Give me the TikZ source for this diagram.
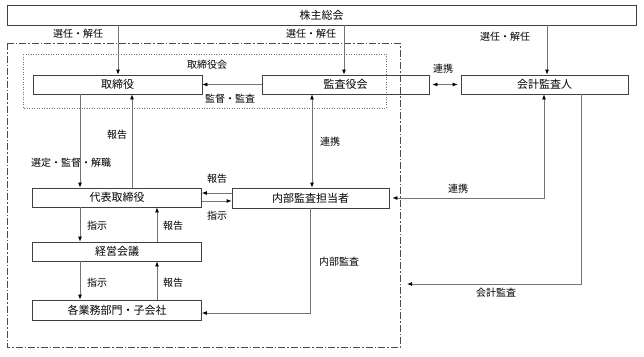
\documentclass[tikz,border=0pt]{standalone}
\usepackage{fontspec}
\setmainfont{Noto Sans CJK JP}
\usepackage{tikz}
\usetikzlibrary{arrows.meta, positioning}
\tikzstyle{organ} = [rectangle, minimum width=169pt, minimum height=19pt, inner sep=0pt, text centered, draw=black!75, line width=0.8pt, font=\fontsize{11}{13}\selectfont]
\tikzstyle{tag} = [inner sep=0pt, font=\fontsize{10}{12}\selectfont]
\tikzstyle{arrow} = [line width=0.8pt, draw=black!55, -{Latex[length=5pt,width=4pt,color=black]}]
\tikzstyle{twoway} = [line width=0.8pt, draw=black!55, {Latex[length=5pt,width=4pt,color=black]}-{Latex[length=5pt,width=4pt,color=black]}]

\begin{document}
\begin{tikzpicture}[x=1pt, y=-1pt, node distance=54pt]
\useasboundingbox (0,0) rectangle (644,356);

% frames
\draw [black!70, line width=0.8pt, dash pattern=on 7pt off 2pt on 1.5pt off 2pt] (7,43) rectangle (400,347);
\draw [black!55, line width=0.8pt, dash pattern=on 1pt off 1.5pt] (23,54) rectangle (386,108);

% boxes
\node (soukai) [organ, minimum width=629pt, minimum height=20pt] at (321.5,15) {株主総会};
\node (torishimari) [organ] at (117.5,84.5) {取締役};
\node (kansa) [organ, minimum width=167pt] at (345.5,84.5) {監査役会};
\node (kaikei) [organ, minimum width=167pt] at (544.5,84.5) {会計監査人};
\node (daihyo) [organ] at (117,197.5) {代表取締役};
\node (keiei) [organ, below of=daihyo] {経営会議};
\node (gyomu) [organ, minimum height=20pt, below of=keiei, yshift=-4.5pt] {各業務部門・子会社};
\node (naibu) [organ, minimum width=157pt, minimum height=20pt] at (310.5,198) {内部監査担当者};

% labels
\node (sennin1) [tag] at (78,34) {選任・解任};
\node (sennin2) [tag] at (311,34) {選任・解任};
\node (sennin3) [tag] at (505,37) {選任・解任};
\node (kai) [tag] at (207,65) {取締役会};
\node (kantoku) [tag] at (230,99) {監督・監査};
\node (renkei1) [tag] at (443,69) {連携};
\node (houkoku1) [tag] at (117,135) {報告};
\node (sentei) [tag] at (71,163) {選定・監督・解職};
\node (renkei2) [tag] at (330,142) {連携};
\node (houkoku2) [tag] at (217,179) {報告};
\node (shiji1) [tag] at (217,216) {指示};
\node (renkei3) [tag] at (458,189) {連携};
\node (shiji2) [tag] at (97,226) {指示};
\node (houkoku3) [tag] at (173,226) {報告};
\node (shiji3) [tag] at (97,283) {指示};
\node (houkoku4) [tag] at (173,283) {報告};
\node (naibukansa) [tag] at (339,262) {内部監査};
\node (kaikeikansa) [tag] at (496,293) {会計監査};

\coordinate (waku) at (407,284);

% connectors
\draw [arrow] (118,0 |- soukai.south) -- (118,0 |- torishimari.north);
\draw [arrow] (344,0 |- soukai.south) -- (344,0 |- kansa.north);
\draw [arrow] (547,0 |- soukai.south) -- (547,0 |- kaikei.north);
\draw [arrow] (kansa.west) -- (torishimari.east);
\draw [twoway, shorten <=3pt, shorten >=3pt] (kansa.east) -- (kaikei.west);
\draw [arrow] (80,0 |- torishimari.south) -- (80,0 |- daihyo.north);
\draw [arrow] (132,0 |- daihyo.north) -- (132,0 |- torishimari.south);
\draw [twoway] (312,0 |- kansa.south) -- (312,0 |- naibu.north);
\draw [arrow] (naibu.west |- 0,193) -- (daihyo.east |- 0,193);
\draw [arrow] (daihyo.east |- 0,201) -- (naibu.west |- 0,201);
\draw [arrow] (80,0 |- daihyo.south) -- (80,0 |- keiei.north);
\draw [arrow] (157,0 |- keiei.north) -- (157,0 |- daihyo.south);
\draw [arrow] (80,0 |- keiei.south) -- (80,0 |- gyomu.north);
\draw [arrow] (157,0 |- gyomu.north) -- (157,0 |- keiei.south);
\draw [arrow] (naibu.south) |- ([yshift=-3pt]gyomu.east);
\draw [twoway] ([xshift=3pt]naibu.east) -| (544,0 |- kaikei.south);
\draw [arrow] (581,0 |- kaikei.south) |- (waku);

\end{tikzpicture}
\end{document}
